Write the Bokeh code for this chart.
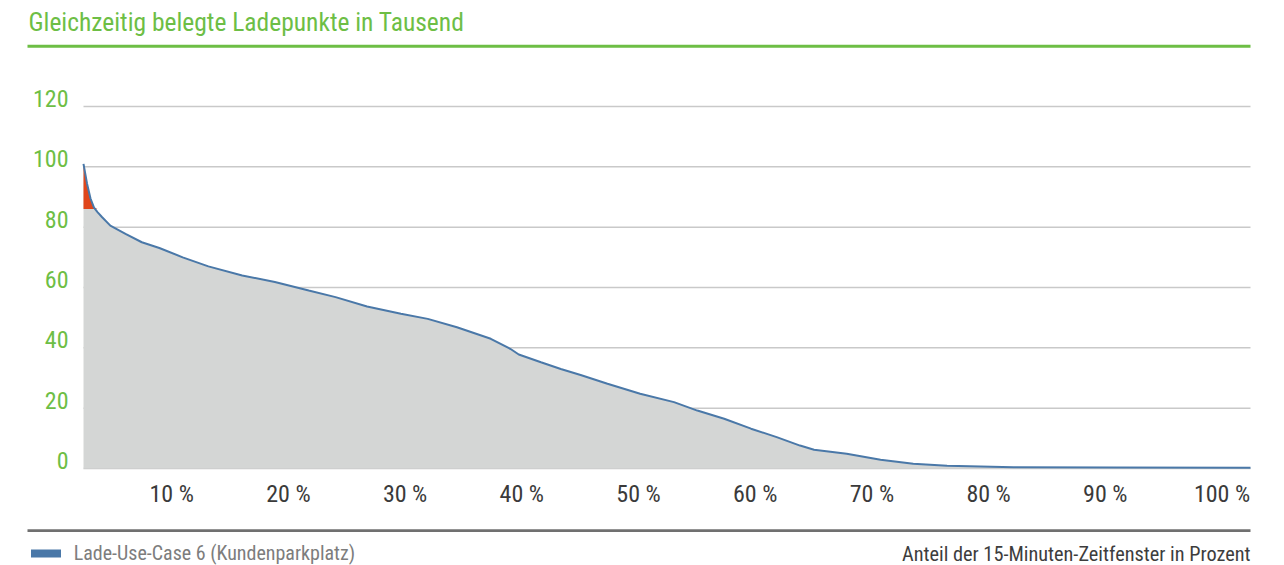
import numpy as np
from bokeh.plotting import figure
from bokeh.models import (ColumnDataSource, LabelSet, Label, BoxAnnotation,
                          Range1d, Legend, LegendItem)
from bokeh.core.properties import value
from bokeh.embed import file_html
from bokeh.resources import INLINE

# ---------------- data ----------------
TITLE = "Gleichzeitig belegte Ladepunkte in Tausend"
SERIES_NAME = "Lade-Use-Case 6 (Kundenparkplatz)"
X_AXIS_TITLE = "Anteil der 15-Minuten-Zeitfenster in Prozent"

share_pct = [0.0, 0.3, 0.6, 0.9, 1.2, 1.6, 2.3, 3.6, 5.0, 6.5, 8.5, 10.7, 13.6,
             16.4, 19.3, 21.6, 24.3, 27.2, 29.5, 32.0, 34.9, 36.6, 37.3, 39.2,
             40.9, 42.6, 44.9, 47.7, 50.6, 52.6, 54.9, 57.2, 59.4, 61.4, 62.6,
             65.4, 68.3, 71.1, 74.0, 79.7, 88.3, 100.0]
load_thousand = [101.0, 94.5, 89.5, 86.5, 85.0, 83.3, 80.5, 77.8, 75.0, 73.1,
                 70.0, 67.0, 64.0, 61.8, 59.0, 56.8, 53.7, 51.3, 49.6, 46.8,
                 43.0, 39.6, 37.8, 35.2, 33.0, 31.0, 28.1, 24.8, 22.0, 19.2,
                 16.5, 13.2, 10.4, 7.6, 6.2, 4.9, 2.9, 1.55, 0.9, 0.4, 0.3, 0.25]
peak_limit = 86.0

y_ticks = [0, 20, 40, 60, 80, 100, 120]
y_tick_labels = ["0", "20", "40", "60", "80", "100", "120"]
x_ticks = [10, 20, 30, 40, 50, 60, 70, 80, 90, 100]
x_tick_labels = ["10 %", "20 %", "30 %", "40 %", "50 %", "60 %", "70 %",
                 "80 %", "90 %", "100 %"]

# ---------------- styling ----------------
FONT_NAME = ("'Roboto Condensed', 'Noto Sans Condensed', 'DejaVu Sans Condensed', "
             "'Liberation Sans Narrow', Roboto, sans-serif")
FONT = value(FONT_NAME)
GREEN = "#6dbe45"
BLUE = "#4a78a8"
GREY_FILL = "#d4d6d5"
RED = "#e0461b"
GRID = "#c9c9c9"

W, H = 1284, 565
PLOT_L, PLOT_R = 83, 1250     # canvas px of x = 0 and x = 100
PLOT_T, PLOT_B = 106, 468     # canvas px of y = 120 and y = 0
X0, X1 = 0.0, 100.0
Y0, Y1 = 0.0, 120.0
kx = (PLOT_R - PLOT_L) / (X1 - X0)
ky = (PLOT_B - PLOT_T) / (Y1 - Y0)


def px_x(px):
    return X0 + (px - PLOT_L) / kx


def px_y(py):
    return Y0 + (PLOT_B - py) / ky


p = figure(width=W, height=H, output_backend="svg", toolbar_location=None,
           x_range=Range1d(px_x(0), px_x(W)), y_range=Range1d(px_y(H), px_y(0)),
           x_axis_location=None, y_axis_location=None, min_border=0)
p.outline_line_color = None
p.grid.visible = False
p.background_fill_color = "white"
p.border_fill_color = "white"

# gridlines (behind the area)
grid_src = ColumnDataSource(dict(x0=[min(share_pct)] * len(y_ticks),
                                 x1=[max(share_pct)] * len(y_ticks),
                                 y=y_ticks))
p.segment(x0="x0", y0="y", x1="x1", y1="y", source=grid_src,
          line_color=GRID, line_width=1.5)

x = np.array(share_pct)
y = np.array(load_thousand)
src = ColumnDataSource(dict(x=x, y=y, base=np.zeros_like(y),
                            peak_base=np.full_like(y, peak_limit),
                            peak_top=np.maximum(y, peak_limit)))
p.varea(x="x", y1="base", y2="y", source=src, fill_color=GREY_FILL)
p.varea(x="x", y1="peak_base", y2="peak_top", source=src, fill_color=RED)
p.line(x="x", y="y", source=src, line_color=BLUE, line_width=2)

# tick labels
ylab_src = ColumnDataSource(dict(x=[X0] * len(y_ticks), y=y_ticks, text=y_tick_labels))
p.add_layout(LabelSet(x="x", y="y", text="text", source=ylab_src,
                      x_offset=-15, y_offset=8, text_align="right",
                      text_baseline="middle", text_font=FONT,
                      text_font_size="24px", text_color=GREEN))
xlab_src = ColumnDataSource(dict(x=x_ticks, y=[Y0] * len(x_ticks), text=x_tick_labels))
p.add_layout(LabelSet(x="x", y="y", text="text", source=xlab_src,
                      x_offset=-28.5, y_offset=-25, text_align="center",
                      text_baseline="middle", text_font=FONT,
                      text_font_size="24px", text_color="#3a3a3a"))

# title + rules
p.add_layout(Label(x=px_x(28), y=px_y(21), text=TITLE, text_align="left",
                   text_baseline="alphabetic", text_font=FONT_NAME,
                   text_font_size="25.5px", text_color=GREEN))
p.add_layout(BoxAnnotation(left=px_x(27), right=px_x(1250), top=px_y(44.2),
                           bottom=px_y(47.2), fill_color=GREEN, fill_alpha=1,
                           line_alpha=0))
p.add_layout(BoxAnnotation(left=px_x(27), right=px_x(1250), top=px_y(528.8),
                           bottom=px_y(531.4), fill_color="#707070",
                           fill_alpha=1, line_alpha=0))

# legend: a one-point line (draws nothing in the plot) gives the thick swatch
swatch = p.line(x=[share_pct[-1]], y=[load_thousand[-1]], line_color=BLUE,
                line_width=8, line_cap="round")
legend = Legend(items=[LegendItem(label=SERIES_NAME, renderers=[swatch])],
                location=(30.7, 0), padding=0, margin=0, spacing=0,
                border_line_color=None, background_fill_alpha=0,
                glyph_width=30, glyph_height=16, label_height=16,
                label_standoff=13, label_text_font=FONT_NAME,
                label_text_font_size="20px", label_text_color="#7d7d7d")
p.add_layout(legend)

p.add_layout(Label(x=px_x(1250), y=px_y(553.5), text=X_AXIS_TITLE,
                   text_align="right", text_baseline="middle", text_font=FONT_NAME,
                   text_font_size="20.3px", text_color="#3d3d3d"))

open("out.html", "w").write(file_html(p, INLINE, title="Ladepunkte"))
